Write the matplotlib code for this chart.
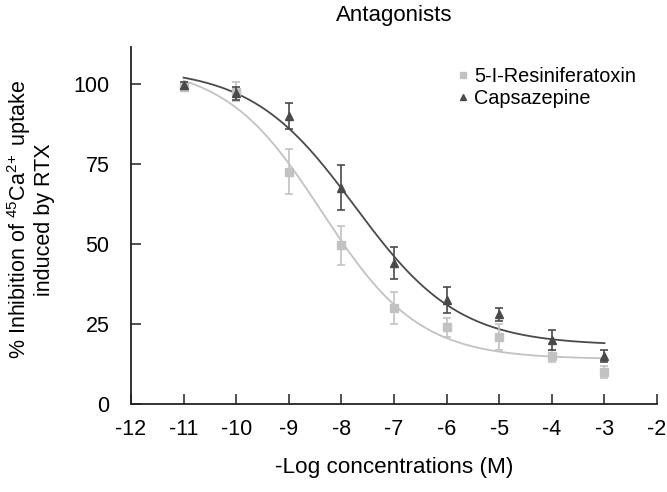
import matplotlib
matplotlib.use('agg')
import numpy as np
import matplotlib.pyplot as plt

plt.rcParams['font.family'] = ['Liberation Sans', 'DejaVu Sans']
plt.rcParams['axes.unicode_minus'] = False
plt.rcParams['mathtext.fontset'] = 'custom'
plt.rcParams['mathtext.rm'] = 'Liberation Sans'
plt.rcParams['mathtext.default'] = 'regular'

log_conc = [-11, -10, -9, -8, -7, -6, -5, -4, -3]

# 5-I-Resiniferatoxin
rtx_mean = [99, 97.5, 72.5, 49.5, 30, 24, 21, 15, 10]
rtx_err = [1, 3, 7, 6, 5, 3, 4, 2, 2]
# Capsazepine
cpz_mean = [99.5, 97, 90, 67.5, 44, 32.5, 28, 20, 15]
cpz_err = [1, 2, 4, 7, 5, 4, 2, 3, 2]

# fitted sigmoid parameters (top, bottom, logIC50, hill)
rtx_fit = (106, 14, -8.37, 0.47)
cpz_fit = (105, 18.3, -7.74, 0.44)

light = '#c2c2c2'
dark = '#4a4a4a'

def sigmoid(x, p):
    top, bot, c, h = p
    return bot + (top - bot) / (1 + 10 ** ((x - c) * h))

fig = plt.figure(figsize=(6.67, 4.92), dpi=100)
ax = fig.add_axes([0.1964, 0.1789, 0.7886, 0.7256])

xs = np.linspace(-11, -3, 300)
ax.plot(xs, sigmoid(xs, rtx_fit), color=light, lw=1.3, zorder=2)
ax.plot(xs, sigmoid(xs, cpz_fit), color=dark, lw=1.3, zorder=3)

ax.errorbar(log_conc, rtx_mean, yerr=rtx_err, fmt='s', color=light, ms=6,
            capsize=3, elinewidth=1.2, capthick=1.2, label='5-I-Resiniferatoxin', zorder=4)
ax.errorbar(log_conc, cpz_mean, yerr=cpz_err, fmt='^', color=dark, ms=6,
            capsize=3, elinewidth=1.2, capthick=1.2, label='Capsazepine', zorder=5)

ax.set_xlim(-12, -2)
ax.set_ylim(0, 111.5)
ax.set_xticks(range(-12, -1))
ax.set_yticks([0, 25, 50, 75, 100])
ax.spines['top'].set_visible(False)
ax.spines['right'].set_visible(False)
for s in ['left', 'bottom']:
    ax.spines[s].set_linewidth(1.3)
    ax.spines[s].set_color('#222222')
ax.tick_params(direction='in', length=7.5, width=1.1, labelsize=15.5, color='#222222')
ax.tick_params(axis='x', pad=11)
ax.tick_params(axis='y', pad=15.5)

ax.set_title('Antagonists', fontsize=16, pad=19)
ax.set_xlabel('-Log concentrations (M)', fontsize=16.2, labelpad=12)
ax.set_ylabel('% Inhibition of $^{45}$Ca$^{2\\!+}$ uptake\ninduced by RTX', fontsize=15.5,
              linespacing=1.05)
ax.yaxis.set_label_coords(-0.145, 0.517)

h, l = ax.get_legend_handles_labels()
h = [x[0] for x in h]
ax.legend(h, l, loc='upper right', bbox_to_anchor=(0.995, 0.995), frameon=False, fontsize=14.3,
          handlelength=0.5, handletextpad=0.35, markerscale=0.8, labelspacing=0.15)

fig.savefig('out.png', dpi=100)
